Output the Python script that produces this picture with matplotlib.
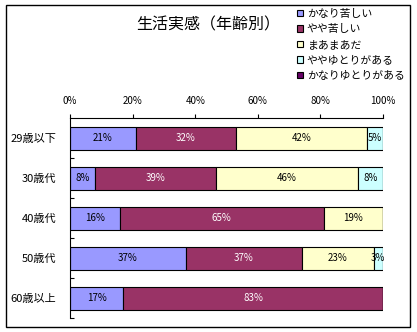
import numpy as np
import matplotlib
matplotlib.use('Agg')
import matplotlib.pyplot as plt
from matplotlib.patches import Rectangle

plt.rcParams['font.family'] = ['Noto Sans CJK JP', 'DejaVu Sans']

# Data
ages = ['29歳以下', '30歳代', '40歳代', '50歳代', '60歳以上']
series = ['かなり苦しい', 'やや苦しい', 'まあまあだ', 'ややゆとりがある', 'かなりゆとりがある']
very_hard = [21, 8, 16, 37, 17]
bit_hard = [32, 39, 65, 37, 83]
so_so = [42, 46, 19, 23, 0]
bit_easy = [5, 8, 0, 3, 0]
very_easy = [0, 0, 0, 0, 0]
colors = ['#9999FF', '#993366', '#FFFFCC', '#CCFFFF', '#660066']
text_colors = ['black', 'white', 'black', 'black', 'white']
xticks = [0, 20, 40, 60, 80, 100]

values = np.array([very_hard, bit_hard, so_so, bit_easy, very_easy], dtype=float)
shares = values / values.sum(axis=0) * 100

fig = plt.figure(figsize=(4.17, 3.32), dpi=100)
ax = fig.add_axes([70 / 417, 1 - 318 / 332, 313 / 417, 200 / 332])

y = np.arange(len(ages))
left = np.zeros(len(ages))
handles = []
for i, name in enumerate(series):
    h = ax.barh(y, shares[i], left=left, height=0.575, color=colors[i],
                edgecolor='black', linewidth=0.8, label=name)
    handles.append(h)
    for j in range(len(ages)):
        if values[i, j] > 0:
            ax.text(left[j] + shares[i, j] / 2, y[j], f'{int(values[i, j])}%',
                    ha='center', va='center', fontsize=7, color=text_colors[i])
    left += shares[i]

ax.set_xlim(0, 100)
ax.set_ylim(len(ages) - 0.5, -0.5)
ax.xaxis.tick_top()
ax.set_xticks(xticks)
ax.set_xticklabels([f'{t}%' for t in xticks], fontsize=7)
ax.tick_params(axis='x', direction='out', length=3, width=0.8, pad=6)

ax.set_yticks(y)
ax.set_yticklabels(ages, fontsize=8)
ax.set_yticks(np.arange(len(ages)) + 0.5, minor=True)
ax.tick_params(axis='y', which='major', length=0, pad=10)
ax.tick_params(axis='y', which='minor', direction='in', length=3, width=0.8)

ax.spines['right'].set_visible(False)
ax.spines['bottom'].set_visible(False)
ax.spines['top'].set_linewidth(0.8)
ax.spines['left'].set_linewidth(0.8)

fig.text(208 / 417, 1 - 25 / 332, '生活実感（年齢別）', ha='center', va='center', fontsize=11.5)

fig.legend(handles=handles, labels=series, loc='upper left',
           bbox_to_anchor=(297 / 417, 1 - 9 / 332), frameon=False,
           fontsize=7.8, handlelength=0.55, handleheight=0.55, handletextpad=0.35,
           labelspacing=0.5, borderpad=0, borderaxespad=0)

fig.patches.append(Rectangle((6 / 417, 5 / 332), 404 / 417, 322 / 332,
                             transform=fig.transFigure, fill=False,
                             edgecolor='black', linewidth=1))

fig.savefig('out.png', dpi=100)
